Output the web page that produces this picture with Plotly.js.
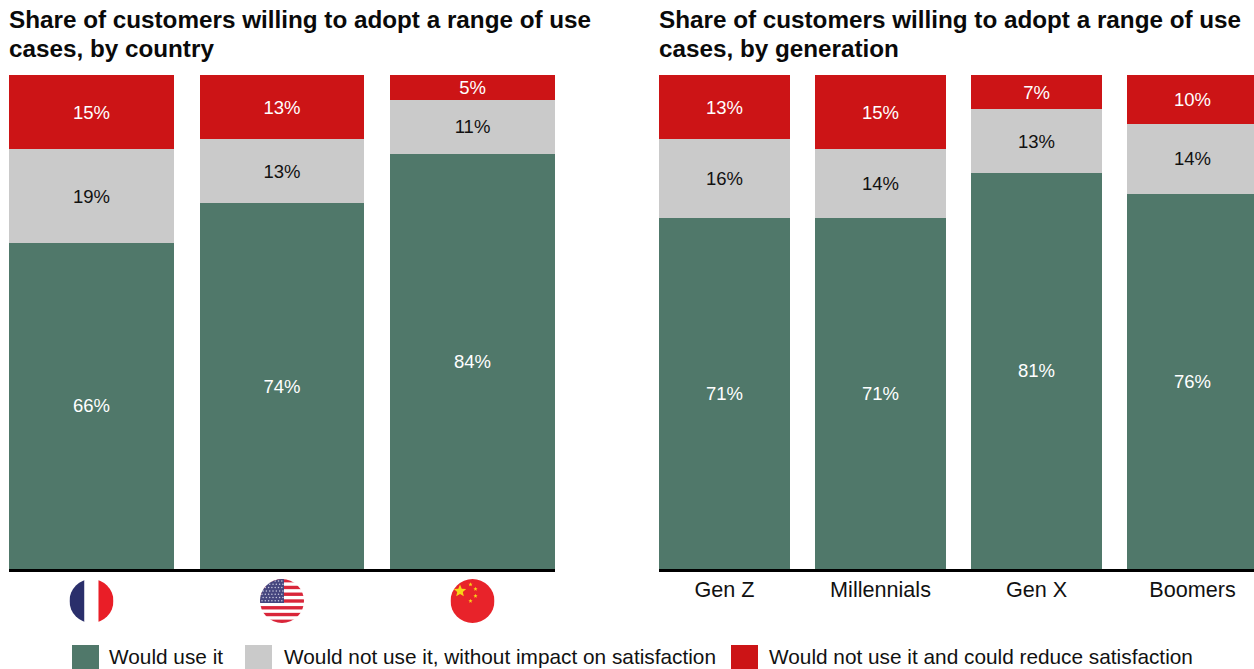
<!DOCTYPE html>
<html>
<head>
<meta charset="utf-8">
<script src="https://cdn.plot.ly/plotly-3.0.1.min.js"></script>
<style>html,body{margin:0;padding:0;background:#fff;overflow:hidden}#chart{width:1254px;height:669px}</style>
</head>
<body>
<div id="chart"></div>
<script>
const countries = ['France', 'United States', 'China'];
const countryUse = [66, 74, 84];
const countryNeutral = [19, 13, 11];
const countryReduce = [15, 13, 5];

const generations = ['Gen Z', 'Millennials', 'Gen X', 'Boomers'];
const generationUse = [71, 71, 81, 76];
const generationNeutral = [16, 14, 13, 14];
const generationReduce = [13, 15, 7, 10];

const seriesNames = [
  'Would use it',
  'Would not use it, without impact on satisfaction',
  'Would not use it and could reduce satisfaction'
];
const seriesColors = ['#50786A', '#CACACA', '#CC1416'];
const labelColors = ['#FFFFFF', '#111111', '#FFFFFF'];

const W = 1254, H = 669;
const FONT = '"Liberation Sans", Arial, sans-serif';
const px = v => v / W;
const py = v => 1 - v / H;

function barTrace(x, y, s, axis, barWidth) {
  return {
    type: 'bar', x, y, name: seriesNames[s], xaxis: axis, yaxis: 'y', width: barWidth,
    marker: { color: seriesColors[s], line: { width: 0 } },
    text: y.map(v => v + '%'), textposition: 'inside', insidetextanchor: 'middle',
    textangle: 0, constraintext: 'none',
    textfont: { family: FONT, size: 18.5, color: labelColors[s] },
    hoverinfo: 'x+name+text', showlegend: false
  };
}

const traces = [
  barTrace(countries, countryUse, 0, 'x', 0.866),
  barTrace(countries, countryNeutral, 1, 'x', 0.866),
  barTrace(countries, countryReduce, 2, 'x', 0.866),
  barTrace(generations, generationUse, 0, 'x2', 0.84),
  barTrace(generations, generationNeutral, 1, 'x2', 0.84),
  barTrace(generations, generationReduce, 2, 'x2', 0.84)
];

// Round flag badges, drawn as small inline SVG pictures
function svgUri(body) {
  const svg = `<svg xmlns="http://www.w3.org/2000/svg" width="176" height="176" viewBox="0 0 44 44">` +
    `<defs><clipPath id="c"><circle cx="22" cy="22" r="22"/></clipPath></defs><g clip-path="url(#c)">${body}</g></svg>`;
  return 'data:image/svg+xml;base64,' + btoa(svg);
}
const franceFlag = svgUri(
  '<rect width="15" height="44" fill="#2A2F6B"/><rect x="15" width="14" height="44" fill="#fff"/><rect x="29" width="15" height="44" fill="#E91E27"/>'
);
function usaBody() {
  let out = '<rect width="44" height="44" fill="#fff"/>';
  for (let i = 0; i < 7; i++) out += `<rect y="${i * 6.77}" width="44" height="3.38" fill="#D9263A"/>`;
  out += '<rect width="24" height="24" fill="#46467F"/>';
  for (let r = 0; r < 7; r++) for (let c = 0; c < 7; c++) {
    out += `<circle cx="${2 + c * 3.3 + (r % 2) * 1.1}" cy="${2 + r * 3.3}" r="0.75" fill="#C9C9DE"/>`;
  }
  return out;
}
const usaFlag = svgUri(usaBody());
function star(cx, cy, r) {
  const pts = [];
  for (let i = 0; i < 10; i++) {
    const a = -Math.PI / 2 + i * Math.PI / 5, q = i % 2 ? r * 0.45 : r;
    pts.push((cx + q * Math.cos(a)).toFixed(2) + ',' + (cy + q * Math.sin(a)).toFixed(2));
  }
  return `<polygon points="${pts.join(' ')}" fill="#F7D417"/>`;
}
const chinaFlag = svgUri(
  '<rect width="44" height="44" fill="#E8232A"/>' + star(9.5, 12, 6.5) +
  star(20, 5.5, 2.2) + star(25, 10, 2.2) + star(25, 17, 2.2) + star(20, 22, 2.2)
);
const flags = [franceFlag, usaFlag, chinaFlag];

// Each heading is two lines, placed separately to hold a 30px line pitch
const headingLines = [
  { text: 'Share of customers willing to adopt a range of use', x: 8, y: 19 },
  { text: 'cases, by country', x: 8, y: 49 },
  { text: 'Share of customers willing to adopt a range of use', x: 658, y: 19 },
  { text: 'cases, by generation', x: 658, y: 49 }
];

const annotations = headingLines.map(line => ({
  text: line.text, xref: 'paper', yref: 'paper', x: px(line.x), y: py(line.y),
  xanchor: 'left', yanchor: 'middle', align: 'left', showarrow: false, borderpad: 0,
  font: { family: FONT, size: 24.25, color: '#0A0A0A', weight: 700 }
}));

// Hand-placed legend row along the bottom edge
const legendSwatchX = [72, 245, 731];
const legendTextX = [108, 283, 768];
const shapes = seriesNames.map((_, i) => ({
  type: 'rect', xref: 'paper', yref: 'paper', layer: 'above',
  x0: px(legendSwatchX[i]), x1: px(legendSwatchX[i] + 27), y0: py(645), y1: py(669),
  fillcolor: seriesColors[i], line: { width: 0 }
}));
seriesNames.forEach((name, i) => annotations.push({
  text: name, xref: 'paper', yref: 'paper', x: px(legendTextX[i]), y: py(656),
  xanchor: 'left', yanchor: 'middle', showarrow: false, borderpad: 0,
  font: { family: FONT, size: 20.8, color: '#111111' }
}));

const images = flags.map((source, i) => ({
  source, xref: 'x', yref: 'paper', x: i, y: py(601),
  sizex: 44 / 190.5, sizey: 44 / H, xanchor: 'center', yanchor: 'middle',
  sizing: 'contain', layer: 'above'
}));

const axisBase = {
  type: 'category', showgrid: false, zeroline: false, showline: true,
  linecolor: '#000000', linewidth: 3, ticks: '', fixedrange: true
};

const layout = {
  width: W, height: H, paper_bgcolor: '#fff', plot_bgcolor: '#fff',
  margin: { l: 0, r: 0, t: 0, b: 0, pad: 0 },
  barmode: 'stack', barnorm: 'percent', showlegend: false,
  xaxis: Object.assign({}, axisBase, {
    domain: [px(9), px(555)], range: [-0.433, 2.433], showticklabels: false
  }),
  xaxis2: Object.assign({}, axisBase, {
    domain: [px(659), 1], range: [-0.42, 3.394], anchor: 'y', ticklabelstandoff: -1,
    tickfont: { family: FONT, size: 21.6, color: '#111111' }
  }),
  yaxis: {
    domain: [py(569), py(75)], range: [0, 100], visible: false, fixedrange: true
  },
  annotations, shapes, images
};

Plotly.newPlot('chart', traces, layout, { displayModeBar: false, responsive: false });
</script>
</body>
</html>
